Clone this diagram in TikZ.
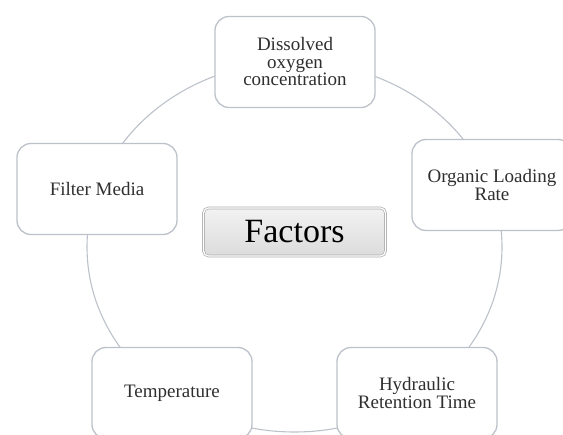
\documentclass[tikz,border=0pt]{standalone}
\usepackage{fontspec}
\setmainfont{Liberation Serif}
\definecolor{rim}{HTML}{BDC2CA}
\definecolor{ink}{HTML}{2F2F2F}
\tikzset{
    factor/.style={draw=rim, line width=1.3pt, fill=white, rounded corners=14pt,
        minimum width=160pt, minimum height=91pt, align=center, text=ink,
        font=\fontsize{19}{17.5}\selectfont},
    hub/.style={draw=gray!65, double=white, double distance=1.2pt, line width=0.7pt,
        rounded corners=5pt, top color=gray!10, bottom color=gray!28,
        minimum width=182pt, minimum height=48pt, text=black,
        font=\fontsize{34}{34}\selectfont}
}
\begin{document}
\begin{tikzpicture}[x=1pt, y=-1pt]
    \clip (0, 0) rectangle (563, 435);
    \fill[white] (0, 0) rectangle (563, 435);

    % ring behind the boxes
    \coordinate (ring) at (294.5, 247);
    \draw[rim, line width=1.1pt] (ring) ellipse [x radius=207.5pt, y radius=185pt];

    % centre
    \node[hub] (factors) at (294.5, 232) {Factors};

    % the five factors
    \node[factor] (oxygen) at (295, 62) {Dissolved\\oxygen\\concentration};
    \node[factor] (loading) at (492, 185) {Organic Loading\\Rate};
    \node[factor] (retention) at (417, 393) {Hydraulic\\Retention Time};
    \node[factor] (temperature) at (172, 393) {Temperature};
    \node[factor] (media) at (97, 189) {Filter Media};
\end{tikzpicture}
\end{document}
